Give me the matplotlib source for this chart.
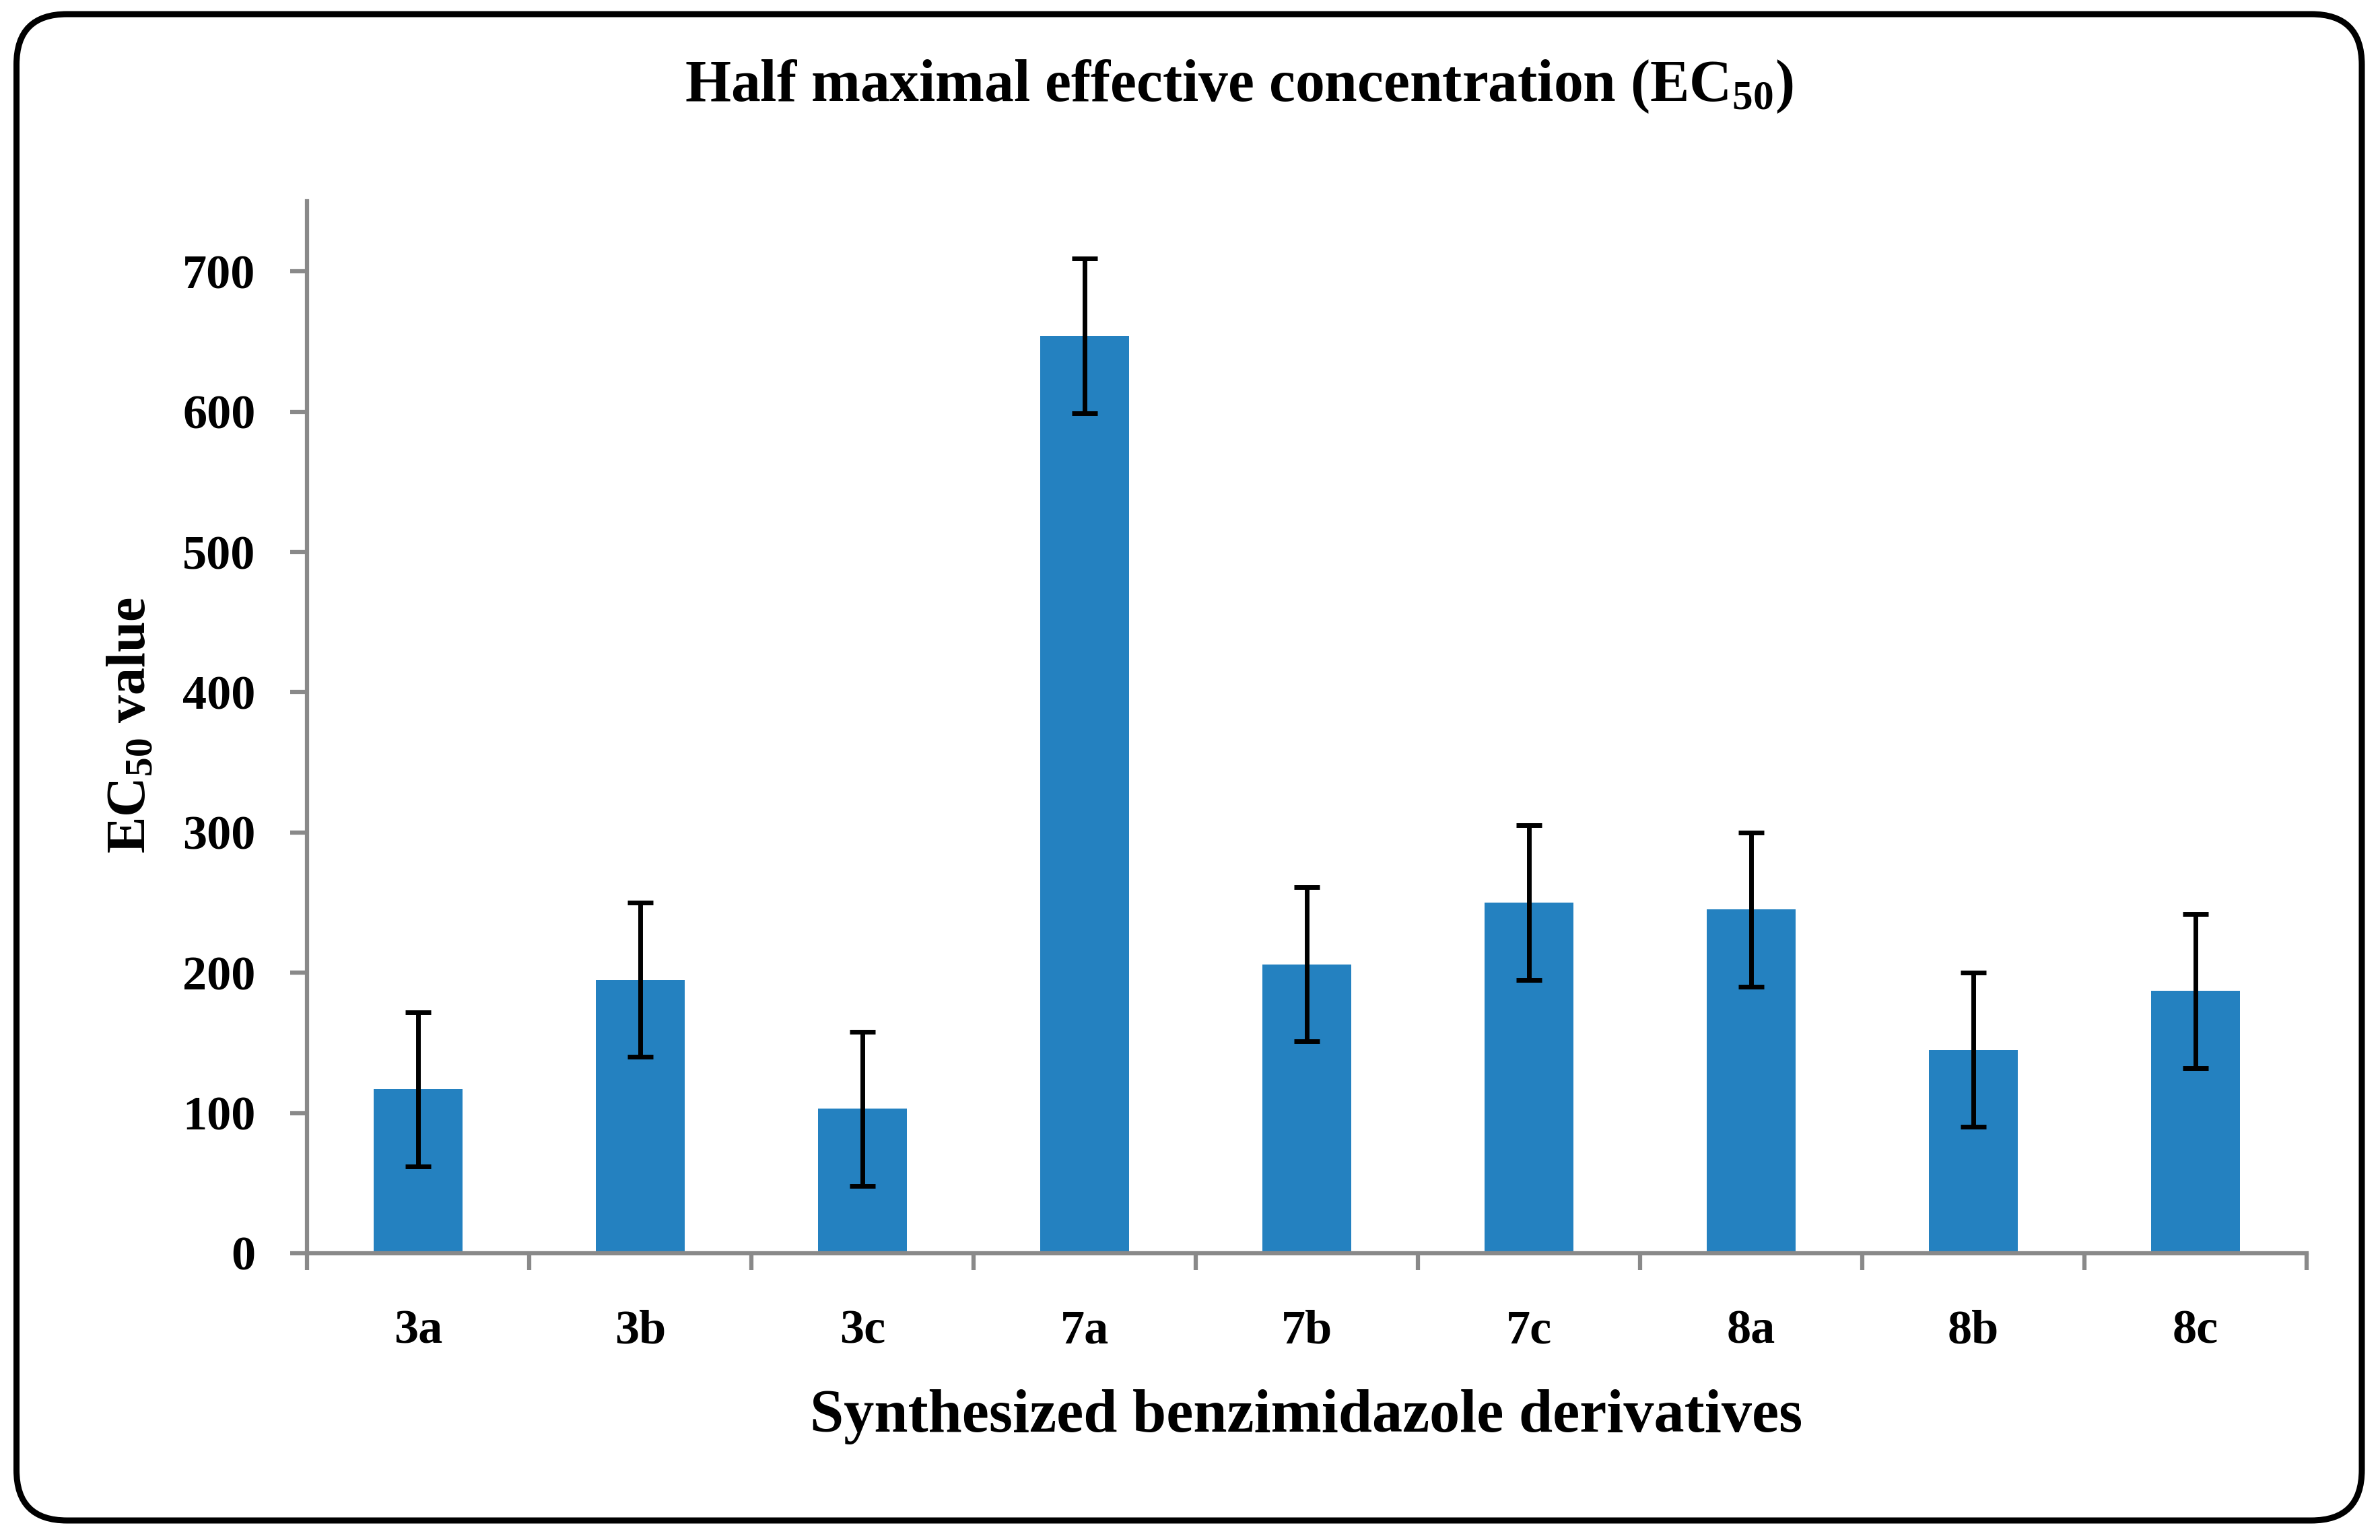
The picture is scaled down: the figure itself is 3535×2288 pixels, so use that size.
import matplotlib.pyplot as plt
import numpy as np
from matplotlib.patches import FancyBboxPatch

# values
compounds = ['3a', '3b', '3c', '7a', '7b', '7c', '8a', '8b', '8c']
ec50 = [117, 195, 103, 654, 206, 250, 245, 145, 187]
err = [55, 55, 55, 55, 55, 55, 55, 55, 55]
yticks = [0, 100, 200, 300, 400, 500, 600, 700]

plt.rcParams['font.family'] = 'Liberation Serif'
plt.rcParams['font.weight'] = 'bold'
plt.rcParams['mathtext.fontset'] = 'custom'
plt.rcParams['mathtext.rm'] = 'Liberation Serif:bold'
plt.rcParams['mathtext.it'] = 'Liberation Serif:bold'
plt.rcParams['mathtext.bf'] = 'Liberation Serif:bold'

fig = plt.figure(figsize=(35.35, 22.88), dpi=100)
ax = fig.add_axes([0.1290, 0.1862, 0.8402, 0.6831])

x = np.arange(len(compounds))
ax.bar(x, ec50, width=0.4, color='#2481c0', zorder=2)
ax.errorbar(x, ec50, yerr=err, fmt='none', ecolor='black',
            elinewidth=5, capsize=14, capthick=5, zorder=3)

ax.set_xlim(-0.5, len(compounds) - 0.5)
ax.set_ylim(0, 750)
ax.set_yticks(yticks)
# ticks sit between categories, labels in the middle
ax.set_xticks(np.arange(len(compounds) + 1) - 0.5, minor=False)
ax.set_xticklabels([''] * (len(compounds) + 1))
ax.set_xticks(x, minor=True)
ax.set_xticklabels(compounds, minor=True)

grey = '#898989'
for s in ['top', 'right']:
    ax.spines[s].set_visible(False)
for s in ['left', 'bottom']:
    ax.spines[s].set_color(grey)
    ax.spines[s].set_linewidth(4.5)

ax.tick_params(axis='y', which='major', direction='out', length=18, width=4.5,
               color=grey, labelsize=52, pad=37)
ax.tick_params(axis='x', which='major', direction='out', length=18, width=4.5,
               color=grey)
ax.tick_params(axis='x', which='minor', length=0, labelsize=52, pad=60)
for lab in ax.get_yticklabels() + ax.get_xticklabels(minor=True):
    lab.set_fontweight('bold')

fig.text(0.5205, 0.9344, r'Half maximal effective concentration (EC$_{50}$)',
         ha='center', va='baseline', fontsize=63, fontweight='bold')
fig.text(0.5488, 0.0704, 'Synthesized benzimidazole derivatives',
         ha='center', va='baseline', fontsize=65, fontweight='bold')
fig.text(0.0552, 0.529, r'EC$_{50}$ value', rotation=90,
         ha='center', va='center', fontsize=59, fontweight='bold')

border = FancyBboxPatch((0.245, 0.29), 34.835, 22.38,
                        boxstyle='round,pad=0,rounding_size=0.75',
                        transform=fig.dpi_scale_trans, fill=False,
                        edgecolor='black', linewidth=6.5)
fig.patches.append(border)

fig.savefig('out.png', dpi=100, facecolor='white')
